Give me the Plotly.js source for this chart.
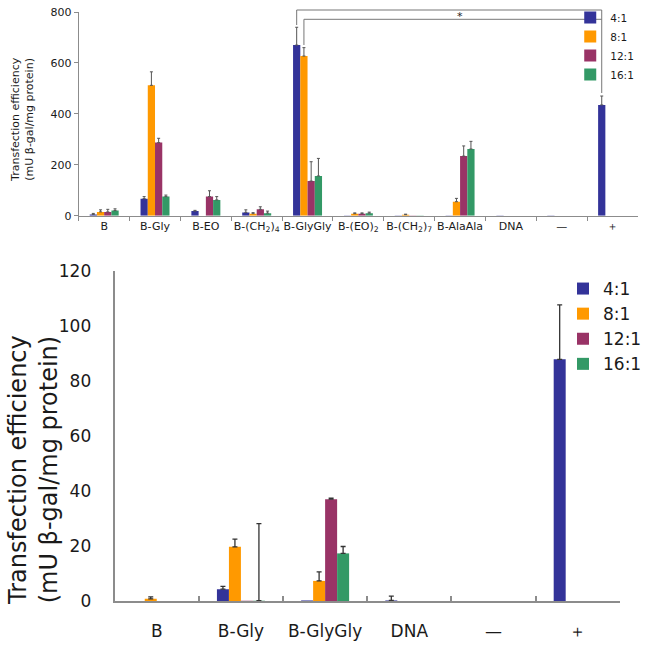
<!DOCTYPE html>
<html>
<head>
<meta charset="utf-8">
<script src="https://cdn.plot.ly/plotly-3.0.1.min.js"></script>
<style>
  body { margin: 0; background: white; }
  #chart { width: 647px; height: 646px; }
</style>
</head>
<body>
<div id="chart"></div>
<script>
// ---- data ----
const ratios = ['4:1', '8:1', '12:1', '16:1']
const ratioColors = ['#333399', '#FF9900', '#993366', '#339966']

// upper panel: all carriers
const topCategories = ['B', 'B-Gly', 'B-EO', 'B-(CH<sub>2</sub>)<sub>4</sub>', 'B-GlyGly',
  'B-(EO)<sub>2</sub>', 'B-(CH<sub>2</sub>)<sub>7</sub>', 'B-AlaAla', 'DNA', '—', '＋']
const top4to1 = [5, 67, 18, 13, 670, 1, 1, 1, 1, 1, 435]
const top4to1Err = [4, 8, 3, 10, 70, null, null, null, null, null, 35]
const top8to1 = [15, 512, 0, 8, 627, 8, 4, 55, 0, 0, 0]
const top8to1Err = [8, 53, null, 4, 33, 3, 2, 13, null, null, null]
const top12to1 = [15, 287, 75, 25, 136, 8, 1, 234, 0, 0, 0]
const top12to1Err = [10, 17, 23, 10, 76, 3, null, 40, null, null, null]
const top16to1 = [20, 75, 62, 10, 156, 10, 1, 262, 0, 0, 0]
const top16to1Err = [7, 6, 13, 8, 69, 4, null, 30, null, null, null]

// lower panel: selected carriers
const botCategories = ['B', 'B-Gly', 'B-GlyGly', 'DNA', '—', '＋']
const bot4to1 = [0, 4.3, 0.2, 0.2, 0, 87.8]
const bot4to1Err = [null, 1.0, null, 1.6, null, 19.8]
const bot8to1 = [0.8, 19.7, 7.3, 0, 0, 0]
const bot8to1Err = [0.7, 2.8, 3.3, null, null, null]
const bot12to1 = [0, 0.1, 37, 0, 0, 0]
const bot12to1Err = [null, null, 0.4, null, null, null]
const bot16to1 = [0, 0.1, 17.3, 0, 0, 0]
const bot16to1Err = [null, 28, 2.5, null, null, null]

const topValues = [top4to1, top8to1, top12to1, top16to1]
const topErrors = [top4to1Err, top8to1Err, top12to1Err, top16to1Err]
const botValues = [bot4to1, bot8to1, bot12to1, bot16to1]
const botErrors = [bot4to1Err, bot8to1Err, bot12to1Err, bot16to1Err]

// ---- geometry helpers (page pixels -> paper) ----
const W = 647, H = 646
const px = x => x / W
const py = y => 1 - y / H
const topDomX = [px(79), px(640)]
const topDomY = [py(215.7), py(12)]
const botDomX = [px(115), px(621.7)]
const botDomY = [py(601), py(270.7)]
const barGap = 0.43
const FONT = 'DejaVu Sans, Verdana, sans-serif'

// paper x of a bar inside the upper panel (category index, series index)
function topBarX(cat, series) {
  let w = (1 - barGap) / ratios.length
  let pos = cat + 0.5 + (series - 1.5) * w
  return topDomX[0] + pos / topCategories.length * (topDomX[1] - topDomX[0])
}

// plotly reads null as 0 and would draw a cap, undefined means "no bar"
function errUp(errs) {
  return errs.map(e => e == null ? undefined : e)
}
function errDown(errs) {
  return errs.map(e => e == null ? undefined : 0)
}

let traces = []
ratios.forEach(function (r, i) {
  traces.push({
    type: 'bar', name: r, x: topCategories, y: topValues[i],
    xaxis: 'x', yaxis: 'y', legend: 'legend',
    marker: { color: ratioColors[i] },
    error_y: { type: 'data', symmetric: false, array: errUp(topErrors[i]),
      arrayminus: errDown(topErrors[i]), color: '#555', thickness: 1, width: 1.5 }
  })
})
ratios.forEach(function (r, i) {
  traces.push({
    type: 'bar', name: r, x: botCategories, y: botValues[i],
    xaxis: 'x2', yaxis: 'y2', legend: 'legend2',
    marker: { color: ratioColors[i] },
    error_y: { type: 'data', symmetric: false, array: errUp(botErrors[i]),
      arrayminus: errDown(botErrors[i]), color: '#333', thickness: 1.3, width: 2.5 }
  })
})

const axisGray = '#8c8c8c'
let layout = {
  width: W, height: H,
  margin: { l: 0, r: 0, t: 0, b: 0 },
  paper_bgcolor: 'white', plot_bgcolor: 'white',
  font: { family: FONT, color: '#1a1a1a' },
  barmode: 'group', bargap: barGap, bargroupgap: 0,
  xaxis: {
    domain: topDomX, anchor: 'y', type: 'category', tickangle: 0,
    showline: true, linecolor: axisGray, linewidth: 1,
    ticks: 'outside', tickson: 'boundaries', ticklen: 4, tickcolor: axisGray,
    tickfont: { size: 11 }, showgrid: false
  },
  yaxis: {
    domain: topDomY, anchor: 'x', range: [0, 800], dtick: 200,
    showline: true, linecolor: axisGray, linewidth: 1,
    ticks: 'outside', ticklen: 4, tickcolor: axisGray,
    tickfont: { size: 11 }, showgrid: false, zeroline: false
  },
  xaxis2: {
    domain: botDomX, anchor: 'y2', type: 'category', tickangle: 0,
    showline: true, linecolor: axisGray, linewidth: 2,
    ticks: 'inside', tickson: 'boundaries', ticklen: 5, tickcolor: axisGray, tickwidth: 2,
    ticklabelstandoff: 14,
    tickfont: { size: 17 }, showgrid: false
  },
  yaxis2: {
    domain: botDomY, anchor: 'x2', range: [0, 120], dtick: 20,
    showline: true, linecolor: axisGray, linewidth: 2,
    // no visible tick marks, the long transparent ones only set the label gap
    ticks: 'outside', ticklen: 18, tickcolor: 'rgba(0,0,0,0)',
    tickfont: { size: 17 }, showgrid: false, zeroline: false
  },
  legend: {
    x: px(572), y: py(3), xanchor: 'left', yanchor: 'top',
    font: { size: 10.5 }, bgcolor: 'rgba(0,0,0,0)', tracegroupgap: 0
  },
  legend2: {
    x: px(565), y: py(271), xanchor: 'left', yanchor: 'top',
    font: { size: 17 }, bgcolor: 'rgba(0,0,0,0)', tracegroupgap: 0
  },
  annotations: [
    {
      text: 'Transfection efficiency<br>(mU β-gal/mg protein)',
      xref: 'paper', yref: 'paper', x: px(22), y: py(119), textangle: -90,
      xanchor: 'center', yanchor: 'middle',
      showarrow: false, font: { size: 11 }
    },
    {
      text: 'Transfection efficiency<br>(mU β-gal/mg protein)',
      xref: 'paper', yref: 'paper', x: px(33), y: py(470), textangle: -90,
      xanchor: 'center', yanchor: 'middle',
      showarrow: false, font: { size: 24 }
    },
    {
      text: '*', xref: 'paper', yref: 'paper', x: px(461), y: py(17),
      xanchor: 'center', yanchor: 'middle',
      showarrow: false, font: { size: 11, color: '#222' }
    }
  ],
  shapes: [
    // significance bracket: B-GlyGly 4:1 vs +
    { type: 'line', xref: 'paper', yref: 'paper', x0: topBarX(4, 0), x1: topBarX(4, 0), y0: py(25), y1: py(10), line: { color: '#777', width: 1 } },
    { type: 'line', xref: 'paper', yref: 'paper', x0: topBarX(4, 0), x1: topBarX(10, 0), y0: py(10), y1: py(10), line: { color: '#777', width: 1 } },
    { type: 'line', xref: 'paper', yref: 'paper', x0: topBarX(10, 0), x1: topBarX(10, 0), y0: py(10), y1: py(93), line: { color: '#777', width: 1 } },
    // significance bracket: B-GlyGly 8:1 vs +
    { type: 'line', xref: 'paper', yref: 'paper', x0: topBarX(4, 1), x1: topBarX(4, 1), y0: py(45), y1: py(19.3), line: { color: '#777', width: 1 } },
    { type: 'line', xref: 'paper', yref: 'paper', x0: topBarX(4, 1), x1: topBarX(10, 0), y0: py(19.3), y1: py(19.3), line: { color: '#777', width: 1 } }
  ]
}

Plotly.newPlot('chart', traces, layout, { displayModeBar: false, staticPlot: true })
</script>
</body>
</html>
